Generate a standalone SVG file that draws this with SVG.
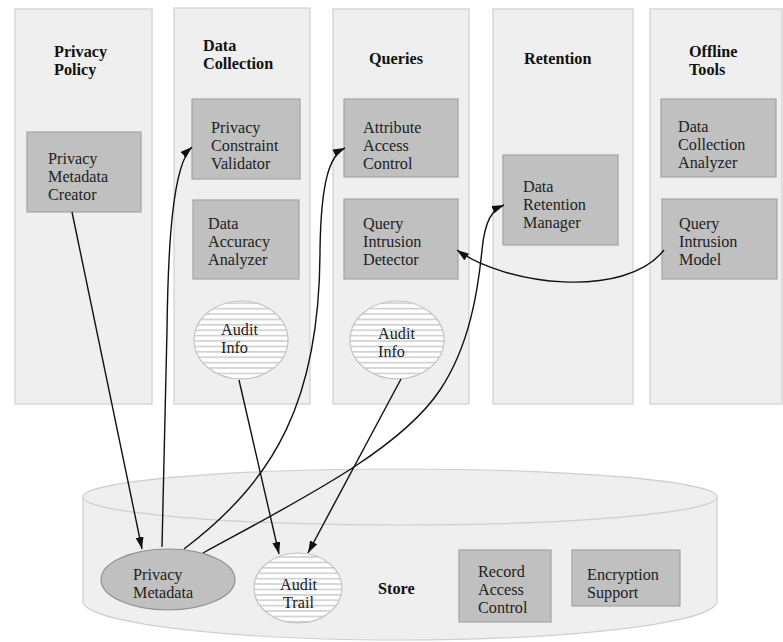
<svg xmlns="http://www.w3.org/2000/svg" width="783" height="642" viewBox="0 0 783 642">
  <style>
    .lane { fill: #efefef; stroke: #cfcfcf; stroke-width: 1.2; }
    .box { fill: #c0c0c0; stroke: #a3a3a3; stroke-width: 1.2; }
    text { font-family: 'Liberation Serif', 'DejaVu Serif', serif; }
    .title { font-weight: bold; font-size: 16.2px; fill: #111; }
    .lbl { font-size: 16.2px; fill: #222; }
    .striped { fill: url(#stripes); stroke: #c4c4c4; stroke-width: 1.2; }
    .edge { fill: none; stroke: #111; stroke-width: 1.4; }
    .arrow { marker-end: url(#head); }
  </style>
  <defs>
    <pattern id="stripes" patternUnits="userSpaceOnUse" width="10" height="5.4">
      <rect width="10" height="5.4" fill="#ffffff"/>
      <rect y="0" width="10" height="1.6" fill="#cfcfcf"/>
    </pattern>
    <marker id="head" markerUnits="userSpaceOnUse" markerWidth="14" markerHeight="10" refX="12" refY="4" orient="auto">
      <path d="M0,0 L12,4 L0,8 Z" fill="#111"/>
    </marker>
  </defs>
  <rect width="783" height="642" fill="#ffffff"/>

  <!-- swim lanes -->
  <g id="lane-privacy-policy">
    <rect class="lane" x="15" y="9" width="137" height="395"/>
    <text class="title" x="54" y="57">Privacy</text>
    <text class="title" x="54" y="75">Policy</text>
  </g>
  <g id="lane-data-collection">
    <rect class="lane" x="174" y="8" width="136" height="396"/>
    <text class="title" x="203" y="51">Data</text>
    <text class="title" x="203" y="69">Collection</text>
  </g>
  <g id="lane-queries">
    <rect class="lane" x="333" y="9" width="136" height="395"/>
    <text class="title" x="369" y="64">Queries</text>
  </g>
  <g id="lane-retention">
    <rect class="lane" x="493" y="9" width="140" height="395"/>
    <text class="title" x="524" y="64">Retention</text>
  </g>
  <g id="lane-offline-tools">
    <rect class="lane" x="650" y="9" width="132" height="395"/>
    <text class="title" x="689" y="57">Offline</text>
    <text class="title" x="689" y="75">Tools</text>
  </g>

  <!-- store cylinder -->
  <g id="store">
    <path class="lane" d="M83,497 A317,28 0 0,1 717,497 L717,601 A317,39 0 0,1 83,601 Z"/>
    <path fill="none" stroke="#cfcfcf" stroke-width="1.2" d="M83,497 A317,28 0 0,0 717,497"/>
    <text class="title" x="378" y="594">Store</text>
  </g>

  <!-- components -->
  <g id="privacy-metadata-creator">
    <rect class="box" x="27" y="132" width="114" height="80"/>
    <text class="lbl" x="48" y="164">Privacy</text>
    <text class="lbl" x="48" y="182">Metadata</text>
    <text class="lbl" x="48" y="200">Creator</text>
  </g>
  <g id="privacy-constraint-validator">
    <rect class="box" x="192" y="99" width="108" height="80"/>
    <text class="lbl" x="211" y="133">Privacy</text>
    <text class="lbl" x="211" y="151">Constraint</text>
    <text class="lbl" x="211" y="169">Validator</text>
  </g>
  <g id="data-accuracy-analyzer">
    <rect class="box" x="193" y="200" width="106" height="79"/>
    <text class="lbl" x="208" y="229">Data</text>
    <text class="lbl" x="208" y="247">Accuracy</text>
    <text class="lbl" x="208" y="265">Analyzer</text>
  </g>
  <g id="audit-info-collection">
    <ellipse class="striped" cx="241" cy="340" rx="47" ry="39"/>
    <text class="lbl" x="221" y="335">Audit</text>
    <text class="lbl" x="221" y="353">Info</text>
  </g>
  <g id="attribute-access-control">
    <rect class="box" x="344" y="99" width="114" height="78"/>
    <text class="lbl" x="363" y="133">Attribute</text>
    <text class="lbl" x="363" y="151">Access</text>
    <text class="lbl" x="363" y="169">Control</text>
  </g>
  <g id="query-intrusion-detector">
    <rect class="box" x="344" y="199" width="114" height="80"/>
    <text class="lbl" x="363" y="229">Query</text>
    <text class="lbl" x="363" y="247">Intrusion</text>
    <text class="lbl" x="363" y="265">Detector</text>
  </g>
  <g id="audit-info-queries">
    <ellipse class="striped" cx="397" cy="340" rx="47" ry="39"/>
    <text class="lbl" x="378" y="339">Audit</text>
    <text class="lbl" x="378" y="357">Info</text>
  </g>
  <g id="data-retention-manager">
    <rect class="box" x="503" y="155" width="115" height="90"/>
    <text class="lbl" x="523" y="192">Data</text>
    <text class="lbl" x="523" y="210">Retention</text>
    <text class="lbl" x="523" y="228">Manager</text>
  </g>
  <g id="data-collection-analyzer">
    <rect class="box" x="661" y="99" width="115" height="78"/>
    <text class="lbl" x="678" y="132">Data</text>
    <text class="lbl" x="678" y="150">Collection</text>
    <text class="lbl" x="678" y="168">Analyzer</text>
  </g>
  <g id="query-intrusion-model">
    <rect class="box" x="662" y="199" width="115" height="80"/>
    <text class="lbl" x="679" y="229">Query</text>
    <text class="lbl" x="679" y="247">Intrusion</text>
    <text class="lbl" x="679" y="265">Model</text>
  </g>
  <g id="privacy-metadata">
    <ellipse cx="168" cy="579.5" rx="67" ry="30.5" fill="#c0c0c0" stroke="#8f8f8f" stroke-width="1.2"/>
    <text class="lbl" x="133" y="580">Privacy</text>
    <text class="lbl" x="133" y="598">Metadata</text>
  </g>
  <g id="audit-trail">
    <ellipse class="striped" cx="298" cy="588" rx="44" ry="35"/>
    <text class="lbl" x="280" y="590">Audit</text>
    <text class="lbl" x="283" y="608">Trail</text>
  </g>
  <g id="record-access-control">
    <rect class="box" x="459" y="550" width="92" height="72"/>
    <text class="lbl" x="478" y="577">Record</text>
    <text class="lbl" x="478" y="595">Access</text>
    <text class="lbl" x="478" y="613">Control</text>
  </g>
  <g id="encryption-support">
    <rect class="box" x="572" y="550" width="108" height="56"/>
    <text class="lbl" x="587" y="580">Encryption</text>
    <text class="lbl" x="587" y="598">Support</text>
  </g>

  <!-- connectors -->
  <g id="connectors">
    <path class="edge arrow" d="M72,212 L142,549"/>
    <path class="edge arrow" d="M162,547 L167,330 C168,250 172,165 192,147"/>
    <path class="edge arrow" d="M184,549 C275,480 320,400 320,250 C321,180 330,155 345,148"/>
    <path class="edge arrow" d="M203,553 C300,500 400,450 440,390 C470,345 478,290 482,250 C485,220 492,210 504,205"/>
    <path class="edge arrow" d="M239,380 L279,554"/>
    <path class="edge arrow" d="M401,379 L308,553"/>
    <path class="edge arrow" d="M664,250 C625,300 505,285 457,250"/>
  </g>
</svg>
